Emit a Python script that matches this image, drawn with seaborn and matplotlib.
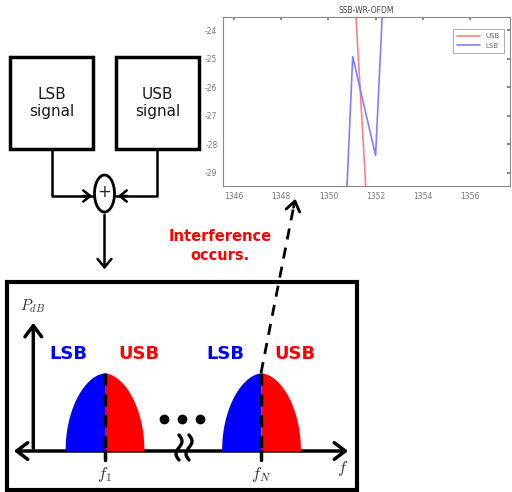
import numpy as np
import pandas as pd
import seaborn as sns
import matplotlib.pyplot as plt
from matplotlib.patches import Rectangle, Ellipse, FancyArrowPatch

# inset data
usb_freq = [1351.13, 1351.62]
usb_db = [-23.0, -30.0]
lsb_freq = [1350.76, 1351.03, 1352.0, 1352.31]
lsb_db = [-30.0, -24.93, -28.4, -23.0]
x_ticks = [1346, 1348, 1350, 1352, 1354, 1356]
y_ticks = [-29, -28, -27, -26, -25, -24]

# diagram labels
box_labels = ["LSB\nsignal", "USB\nsignal"]
carrier_labels = [r"$f_1$", r"$f_N$"]
band_names = ["LSB", "USB"]
band_colors = ["#0000ff", "#ff0000"]

sns.set_theme(style="white")
plt.rcParams['font.family'] = ['DejaVu Sans']
plt.rcParams['mathtext.fontset'] = 'cm'
plt.rcParams['axes.unicode_minus'] = False

fig = plt.figure(figsize=(5.12, 4.92), dpi=100)

# background axes in pixel coords for the block diagram
bg = fig.add_axes([0, 0, 1, 1])
bg.set_xlim(0, 512)
bg.set_ylim(492, 0)
bg.axis("off")

# signal boxes
for x0, lab in zip([10, 116], box_labels):
    bg.add_patch(Rectangle((x0, 57), 83, 92, fill=False, lw=2.5, ec="black"))
    bg.text(x0 + 41.5, 103, lab, ha="center", va="center", fontsize=11,
            color="#1a1a1a", linespacing=1.1)

# lines into adder
bg.plot([51.7, 51.7, 93], [149, 196, 196], color="black", lw=1.8)
bg.plot([156.7, 156.7, 116], [149, 196, 196], color="black", lw=1.8)
bg.add_patch(FancyArrowPatch((80, 196), (95, 196), arrowstyle="->,head_length=5,head_width=4",
                             color="black", lw=1.8, mutation_scale=1))
bg.add_patch(FancyArrowPatch((130, 196), (115, 196), arrowstyle="->,head_length=5,head_width=4",
                             color="black", lw=1.8, mutation_scale=1))
bg.add_patch(Ellipse((104.5, 193.5), 20, 37, fill=False, lw=2, ec="black"))
bg.text(104.5, 192, "+", ha="center", va="center", fontsize=12)
bg.add_patch(FancyArrowPatch((104.5, 212), (104.5, 272), arrowstyle="->,head_length=6,head_width=5",
                             color="black", lw=1.8, mutation_scale=1))

# spectrum box
bg.add_patch(Rectangle((7, 282), 350, 208, fill=False, lw=3, ec="black"))
bg.add_patch(FancyArrowPatch((33.3, 451), (33.3, 320), arrowstyle="->,head_length=8,head_width=6",
                             color="black", lw=2.5, mutation_scale=1))
bg.add_patch(FancyArrowPatch((11, 451), (351, 451), arrowstyle="<->,head_length=8,head_width=6",
                             color="black", lw=2.5, mutation_scale=1))
bg.text(33, 306, r"$P_{dB}$", ha="center", va="center", fontsize=11, color="#333333")
bg.text(343, 469, r"$f$", ha="center", va="center", fontsize=12, color="#333333")

# lobes
centers = [104.5, 261]
half_w = 39.5
top, base = 373, 451
t = np.linspace(0, 1, 80)
shape = (1 - t ** 1.8) ** 0.5
for c, lab in zip(centers, carrier_labels):
    bg.fill_between(c - half_w * t, base, base - (base - top) * shape, color=band_colors[0], lw=0)
    bg.fill_between(c + half_w * t, base, base - (base - top) * shape, color=band_colors[1], lw=0)
    bg.plot([c, c], [top, base], color="black", lw=2.5, ls=(0, (3.5, 2.5)))
    bg.plot([c, c], [451, 460], color="black", lw=2.5)
    bg.text(c, 474, lab, ha="center", va="center", fontsize=12, color="#333333")
    for dx, name, col in zip([-36, 34], band_names, band_colors):
        bg.text(c + dx, 354, name, ha="center", va="center", fontsize=13,
                fontweight="bold", color=col)

# dots and break symbol
bg.plot([164, 182, 200], [419, 419, 419], "o", color="black", ms=6)
yy = np.linspace(435, 460, 40)
for x0 in [179, 189]:
    bg.plot(x0 + 3 * np.sin((yy - 435) / 25 * 2 * np.pi), yy, color="black", lw=2.4)

# interference arrow
bg.plot([261, 294], [373, 205], color="black", lw=2, ls=(0, (4, 3)))
bg.add_patch(FancyArrowPatch((293, 210), (296, 196), arrowstyle="->,head_length=7,head_width=5",
                             color="black", lw=2, mutation_scale=1))
bg.text(220, 246, "Interference\noccurs.", ha="center", va="center", fontsize=10.5,
        fontweight="bold", color="#ff0000", linespacing=1.3)

# inset plot
ax = fig.add_axes([223 / 512, 1 - 186 / 492, 287 / 512, 169 / 492])
df = pd.concat([
    pd.DataFrame({"freq": usb_freq, "db": usb_db, "band": "USB"}),
    pd.DataFrame({"freq": lsb_freq, "db": lsb_db, "band": "LSB"}),
])
sns.lineplot(data=df, x="freq", y="db", hue="band", sort=False, estimator=None,
             palette={"USB": "#ff8080", "LSB": "#7f7fff"}, lw=1.2, ax=ax)
ax.set_xlim(1345.53, 1357.7)
ax.set_ylim(-29.47, -23.54)
ax.set_xticks(x_ticks)
ax.set_yticks(y_ticks)
ax.set_xlabel("")
ax.set_ylabel("")
ax.set_title("SSB-WR-OFDM", fontsize=5.5, color="#444444", pad=3)
ax.tick_params(direction="in", length=2, labelsize=5.5, colors="#777777",
               top=True, right=True, pad=4)
for s in ax.spines.values():
    s.set_color("#888888")
    s.set_linewidth(0.8)
leg = ax.legend(loc="upper right", fontsize=5, frameon=True, fancybox=False,
                handlelength=3.2, borderpad=0.6, bbox_to_anchor=(0.99, 0.95))
leg.get_frame().set_edgecolor("#888888")
leg.get_frame().set_linewidth(0.6)
for txt in leg.get_texts():
    txt.set_color("#666666")

fig.savefig("out.png", dpi=100)
